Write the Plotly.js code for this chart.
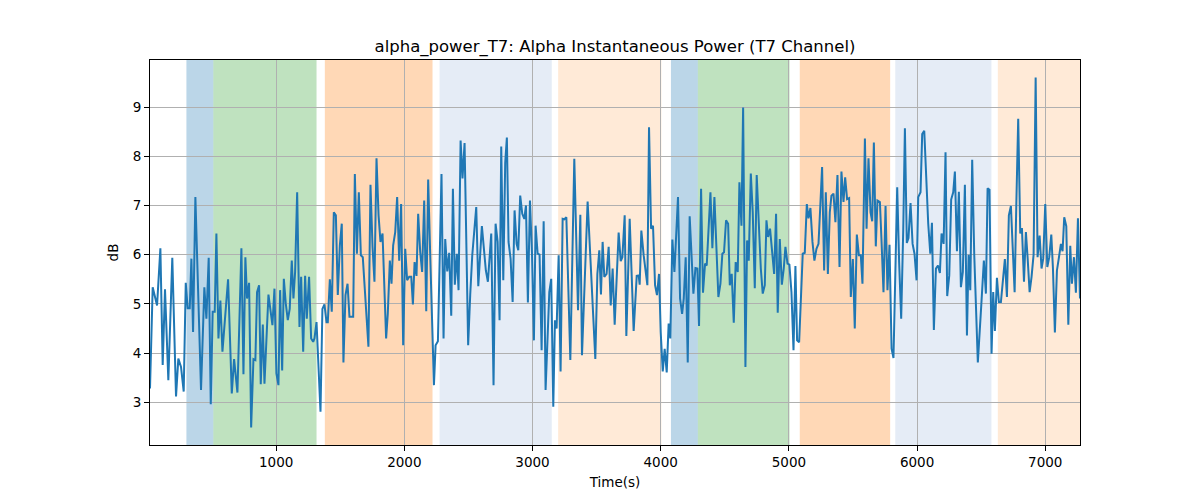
<!DOCTYPE html>
<html>
<head>
<meta charset="utf-8">
<script src="https://cdn.plot.ly/plotly-3.0.1.min.js"></script>
<style>
  body { margin: 0; background: #fff; }
  #chart { width: 1200px; height: 500px; }
</style>
</head>
<body>
<div id="chart"></div>
<script>
// --- data ---
const timeSec = [
  16, 37, 71, 97, 115, 133, 159, 190, 219, 237, 258, 279, 295, 310, 326, 339, 352, 370, 414, 440,
  456, 474, 490, 505, 521, 534, 550, 565, 581, 625, 654, 672, 698, 729, 745, 760, 773, 789, 805, 823,
  838, 851, 867, 880, 896,
  909, 940, 956, 971, 987, 1002, 1018, 1031, 1047, 1060, 1075, 1091, 1106, 1122, 1135, 1148, 1164, 1182, 1195, 1211,
  1226, 1239, 1257, 1273, 1289, 1299, 1315, 1330, 1346, 1361, 1377, 1393, 1403, 1419, 1434, 1450, 1466, 1481, 1497, 1512,
  1525, 1541, 1557, 1572, 1591, 1601, 1614, 1630, 1645, 1661, 1676, 1692, 1720, 1736, 1752, 1767, 1783, 1799, 1814, 1830,
  1858, 1871, 1887, 1900, 1913, 1929, 1944, 1960, 1975, 1991, 2007, 2022, 2038, 2054, 2067, 2080, 2095, 2108, 2124, 2139,
  2155, 2171, 2186, 2202, 2231, 2244, 2262, 2290, 2306, 2319, 2335, 2350, 2366, 2379, 2394, 2410, 2423, 2439, 2454, 2470,
  2483, 2498, 2514, 2530, 2561, 2577, 2605, 2623, 2636, 2652, 2678, 2696, 2712, 2728, 2743, 2756, 2772, 2787,
  2800, 2813, 2829, 2845, 2860, 2876, 2889, 2904, 2920, 2936, 2949, 2964, 2980, 2996, 3011, 3024, 3040, 3055, 3071, 3087,
  3102, 3131, 3146, 3162, 3175, 3188, 3204, 3219, 3235, 3248, 3264, 3295, 3326, 3355, 3373, 3386, 3430, 3490, 3506, 3521,
  3534, 3547, 3560, 3578, 3594, 3610, 3625, 3641, 3672, 3688, 3701,
  3719, 3732, 3758, 3774, 3789, 3813, 3828, 3836, 3849, 3867, 3896, 3909, 3925, 3940, 3956, 3971, 3987, 4000, 4016, 4031,
  4047, 4062, 4075, 4091, 4107, 4135, 4151, 4167, 4180, 4195, 4211, 4226, 4255, 4271, 4286, 4299, 4315, 4330, 4346, 4359,
  4388, 4403, 4419, 4435, 4450, 4466, 4481, 4494, 4510, 4526, 4539, 4554, 4570, 4585, 4601, 4614, 4630, 4643,
  4661, 4674, 4687, 4703, 4718, 4734, 4749, 4765, 4781, 4796, 4812, 4825, 4838, 4853, 4869, 4885, 4900, 4913, 4929, 4945,
  4960, 4973, 4989, 5004, 5020, 5036, 5051, 5064, 5080, 5095, 5108, 5124, 5140, 5153, 5168, 5184, 5199, 5215, 5231, 5244,
  5259, 5275, 5288, 5304, 5319, 5332, 5348, 5363, 5379, 5395, 5410, 5426, 5439, 5454, 5470, 5483, 5499, 5514, 5530, 5546,
  5561, 5574,
  5593, 5606, 5621, 5637, 5650, 5663, 5678, 5691, 5710, 5723, 5738, 5754, 5769, 5785, 5801, 5816, 5832, 5845, 5860, 5876,
  5892, 5905, 5920, 5933, 5949, 5965, 5980, 5996, 6009, 6027, 6040, 6056, 6087, 6103, 6116, 6131, 6147, 6163, 6178, 6191,
  6207, 6222, 6235, 6251, 6266, 6282, 6295, 6311, 6326, 6342, 6357, 6373, 6389, 6402, 6415, 6430, 6446, 6462,
  6474, 6503, 6521, 6537, 6550, 6565, 6581, 6594, 6607, 6623, 6638, 6654, 6670, 6685, 6701, 6716, 6732, 6748, 6761, 6774,
  6789, 6805, 6818, 6834, 6849, 6862, 6878, 6893, 6909, 6925, 6940, 6956, 6971, 6984, 7000, 7016, 7031, 7047, 7060, 7075,
  7091, 7107, 7122, 7135, 7148, 7164, 7180, 7195, 7208, 7224, 7239, 7255, 7271
];

const alphaDb = [
  3.28, 5.34, 4.97, 6.13, 3.76, 5.30, 3.45, 5.94, 3.12, 3.89, 3.72, 3.22, 5.43, 4.91, 4.91, 5.92, 4.43, 7.17, 3.25, 5.34,
  4.70, 5.94, 2.96, 4.84, 4.84, 6.43, 4.30, 5.07, 4.03, 5.50, 3.18, 3.88, 3.20, 6.13, 3.57, 5.95, 5.11, 5.43, 2.49, 3.88,
  3.86, 5.24, 5.38, 3.37, 4.58,
  3.38, 5.19, 4.80, 4.57, 5.31, 3.59, 3.35, 5.28, 3.65, 5.51, 5.01, 4.67, 4.90, 5.88, 5.11, 5.65, 7.27, 4.53, 5.55, 4.03,
  5.57, 4.70, 5.55, 4.30, 4.23, 4.30, 4.63, 3.55, 2.81, 4.90, 4.99, 4.63, 4.63, 5.50, 4.84, 6.86, 6.80, 5.18, 6.19, 6.63,
  3.81, 5.18, 5.41, 4.74, 4.74, 4.74, 7.64, 6.02, 7.27, 5.99, 5.95, 5.24, 4.13, 7.42, 6.16, 5.45, 7.96, 6.80, 6.26, 6.43,
  4.30, 4.80, 5.88, 5.41, 6.19, 6.46, 7.17, 5.88, 7.03, 4.16, 6.12, 5.48, 5.55, 5.55, 4.99, 5.85, 5.57, 6.83, 6.05, 5.65,
  7.10, 4.85, 7.53, 5.99, 3.35, 4.16, 4.24, 7.64, 4.30, 6.32, 5.66, 6.04, 4.76, 7.34, 5.39, 6.02, 5.28, 8.32, 7.55, 8.27,
  6.66, 4.16, 5.18, 5.99, 6.97, 5.36, 6.58, 5.99, 5.68, 5.45, 6.43, 3.35, 6.63, 6.26, 4.67, 8.20, 5.48, 7.87,
  8.38, 6.26, 5.92, 5.04, 6.90, 6.22, 6.09, 7.20, 6.83, 6.73, 7.00, 5.03, 7.10, 6.02, 4.26, 6.59, 6.02, 6.00, 4.06, 6.68,
  3.25, 5.24, 5.51, 2.91, 4.67, 4.50, 5.99, 3.63, 6.73, 6.72, 6.76, 3.86, 7.95, 4.87, 6.81, 3.96, 7.08, 3.88, 5.61, 6.09,
  5.19, 6.26, 5.55, 5.61, 6.16, 4.97, 5.72, 4.58, 6.45, 5.87, 5.95,
  6.80, 4.35, 6.73, 5.58, 4.45, 5.57, 5.58, 5.39, 6.49, 5.99, 5.38, 8.59, 6.53, 6.59, 5.38, 5.18, 5.61, 4.43, 3.63, 4.09,
  3.61, 4.60, 4.30, 6.31, 5.65, 7.17, 5.11, 4.80, 5.11, 5.95, 3.81, 6.78, 5.21, 5.73, 5.72, 4.55, 7.34, 5.23, 5.82, 5.78,
  7.27, 6.13, 7.17, 6.12, 5.14, 5.41, 6.02, 6.05, 6.70, 6.63, 5.38, 5.61, 4.62, 5.85, 5.65, 7.47, 6.59, 8.99,
  3.72, 6.29, 5.88, 7.65, 6.86, 5.32, 7.62, 6.66, 5.72, 5.21, 5.38, 6.70, 6.36, 6.53, 6.12, 5.61, 6.83, 4.82, 6.32, 5.39,
  5.72, 6.16, 5.82, 5.80, 5.24, 4.06, 5.77, 4.26, 4.22, 5.18, 6.02, 6.04, 7.03, 6.74, 6.95, 6.26, 5.88, 6.12, 6.22, 6.93,
  7.78, 5.68, 7.27, 5.61, 6.86, 7.20, 7.24, 6.66, 7.62, 5.75, 7.69, 7.07, 7.57, 7.13, 7.15, 5.14, 5.91, 4.50, 6.41, 5.99,
  5.99, 5.41,
  8.36, 6.53, 7.96, 6.86, 6.68, 8.28, 6.17, 7.10, 7.07, 6.26, 5.24, 6.99, 5.28, 6.20, 4.09, 3.90, 6.26, 7.37, 5.85, 4.70,
  6.49, 8.57, 6.24, 6.34, 7.05, 6.22, 6.02, 5.48, 7.17, 7.27, 8.45, 8.52, 6.63, 6.02, 6.65, 4.47, 5.72, 5.78, 5.63, 6.43,
  6.22, 8.08, 5.16, 5.58, 7.12, 7.27, 7.69, 6.07, 7.28, 5.34, 5.65, 7.42, 4.36, 6.00, 5.28, 7.93, 6.00, 4.70,
  3.81, 5.07, 5.88, 5.21, 7.35, 7.32, 3.99, 5.24, 4.45, 5.53, 5.04, 5.04, 5.50, 5.91, 5.14, 6.80, 6.99, 6.07, 5.24, 7.00,
  8.76, 6.43, 6.54, 5.45, 6.46, 5.95, 5.24, 5.55, 6.00, 9.60, 5.95, 6.39, 5.72, 5.92, 7.03, 5.75, 5.95, 6.41, 5.72, 4.42,
  5.68, 5.95, 6.22, 6.07, 6.76, 6.58, 4.58, 6.18, 5.41, 5.95, 5.23, 6.74, 5.11
];

// shaded phases (seconds)
const phaseStart = [300, 510, 1380, 2275, 3200, 4080, 4290, 5085, 5830, 6630];
const phaseEnd   = [510, 1315, 2220, 3150, 4005, 4290, 5005, 5790, 6580, 7271];
const phaseKind  = ['blue', 'green', 'orange', 'paleblue', 'paleorange',
                    'blue', 'green', 'orange', 'paleblue', 'paleorange'];

const phaseColor = {
    blue: 'rgba(31,119,180,0.3)',
    green: 'rgba(44,160,44,0.3)',
    orange: 'rgba(255,127,14,0.3)',
    paleblue: 'rgba(82,128,195,0.15)',
    paleorange: 'rgba(255,127,14,0.165)'
};

const shapes = phaseStart.map((s, i) => ({
    type: 'rect',
    xref: 'x',
    yref: 'paper',
    x0: s,
    x1: phaseEnd[i],
    y0: 0,
    y1: 1,
    fillcolor: phaseColor[phaseKind[i]],
    line: { width: 0 },
    layer: 'below'
}));

const trace = {
    x: timeSec,
    y: alphaDb,
    type: 'scatter',
    mode: 'lines',
    line: { color: '#1f77b4', width: 2 },
    hoverinfo: 'x+y'
};

const axisCommon = {
    showline: true,
    linecolor: '#000',
    linewidth: 1,
    mirror: true,
    showgrid: true,
    gridcolor: '#b0b0b0',
    gridwidth: 1,
    zeroline: false,
    ticks: 'outside',
    ticklen: 5,
    tickcolor: '#000',
    tickfont: { family: 'DejaVu Sans', size: 13.5, color: '#000' }
};

const layout = {
    width: 1200,
    height: 500,
    margin: { l: 150, r: 120, t: 60, b: 55 },
    paper_bgcolor: '#fff',
    plot_bgcolor: '#fff',
    showlegend: false,
    title: {
        text: 'alpha_power_T7: Alpha Instantaneous Power (T7 Channel)',
        font: { family: 'DejaVu Sans', size: 16.5, color: '#000' },
        x: 0.5125,
        xanchor: 'center',
        y: 0.908,
        yref: 'container',
        yanchor: 'middle'
    },
    xaxis: Object.assign({}, axisCommon, {
        range: [timeSec[0], timeSec[timeSec.length - 1]],
        tick0: 0,
        dtick: 1000,
        title: { text: 'Time(s)', font: { family: 'DejaVu Sans', size: 13.5, color: '#000' }, standoff: 8 }
    }),
    yaxis: Object.assign({}, axisCommon, {
        range: [2.134, 9.956],
        tick0: 0,
        dtick: 1,
        title: { text: 'dB', font: { family: 'DejaVu Sans', size: 13.5, color: '#000' }, standoff: 10 }
    }),
    shapes: shapes
};

Plotly.newPlot('chart', [trace], layout, { displayModeBar: false, staticPlot: true });
</script>
</body>
</html>
